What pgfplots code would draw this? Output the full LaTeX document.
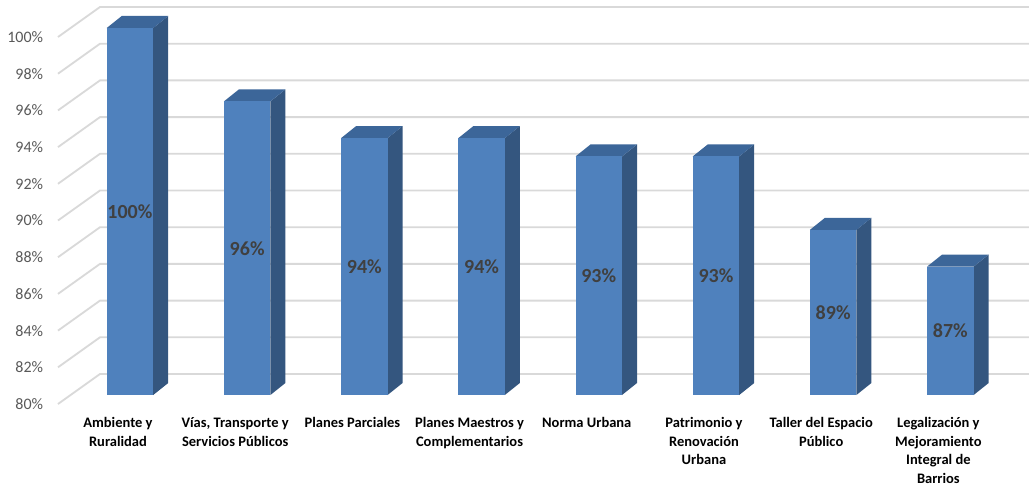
\documentclass[border=0pt]{standalone}
\usepackage{pgfplots}
\pgfplotsset{compat=1.18}
\usepackage{pgfplotstable}
\usepackage{fontspec}
\setmainfont{Carlito}
\definecolor{barfront}{HTML}{4F81BD}
\definecolor{barside}{HTML}{34567F}
\definecolor{bartop}{HTML}{3C6699}
\definecolor{gridgray}{HTML}{D9D9D9}
\definecolor{ticktext}{HTML}{595959}
\definecolor{valtext}{HTML}{404040}

% 3D box mark: origin at the top-front-center of the bar; \hh = bar height in pt
\pgfdeclareplotmark{box3d}{%
  \begin{pgfscope}
    \pgfsetfillcolor{barside}%
    \pgfpathmoveto{\pgfpoint{13.95pt}{0pt}}%
    \pgfpathlineto{\pgfpoint{22.95pt}{7.2pt}}%
    \pgfpathlineto{\pgfpoint{22.95pt}{7.2pt-\hh pt}}%
    \pgfpathlineto{\pgfpoint{13.95pt}{-\hh pt}}%
    \pgfpathclose
    \pgfusepathqfill
  \end{pgfscope}%
  \begin{pgfscope}
    \pgfsetfillcolor{bartop}%
    \pgfpathmoveto{\pgfpoint{-13.95pt}{0pt}}%
    \pgfpathlineto{\pgfpoint{13.95pt}{0pt}}%
    \pgfpathlineto{\pgfpoint{22.95pt}{7.2pt}}%
    \pgfpathlineto{\pgfpoint{-4.95pt}{7.2pt}}%
    \pgfpathclose
    \pgfusepathqfill
  \end{pgfscope}%
  \begin{pgfscope}
    \pgfsetfillcolor{barfront}%
    \pgfpathrectanglecorners{\pgfpoint{-13.95pt}{-\hh pt}}{\pgfpoint{13.95pt}{0pt}}%
    \pgfusepathqfill
  \end{pgfscope}%
}
% grid mark: front-edge diagonal plus back-wall line
\pgfdeclareplotmark{gridmark}{%
  \pgfpathmoveto{\pgfpoint{0pt}{-5.4pt}}%
  \pgfpathlineto{\pgfpoint{25.2pt}{12.6pt}}%
  \pgfpathlineto{\pgfpoint{582.6pt}{12.6pt}}%
  \pgfusepathqstroke
}

\pgfplotstableread{
x v
0 100
1 96
2 94
3 94
4 93
5 93
6 89
7 87
}\datatable

\begin{document}
\begin{tikzpicture}
\begin{axis}[
  scale only axis,
  width=582.6pt, height=220.2pt,
  xmin=-0.614, xmax=7.671,
  ymin=80, ymax=100,
  clip=false,
  axis line style={draw=none},
  major tick style={draw=none},
  /pgf/number format/assume math mode=true,
  ytick={80,82,...,100},
  yticklabels={80\%,82\%,84\%,86\%,88\%,90\%,92\%,94\%,96\%,98\%,100\%},
  yticklabel style={font=\fontsize{9.6}{11}\selectfont, text=ticktext, anchor=east, xshift=-5.4pt, yshift=-5.4pt},
  xtick={0,...,7},
  xticklabels={
    {Ambiente y\\Ruralidad},
    {Vías, Transporte y\\Servicios Públicos},
    {Planes Parciales},
    {Planes Maestros y\\Complementarios},
    {Norma Urbana},
    {Patrimonio y\\Renovación\\Urbana},
    {Taller del Espacio\\Público},
    {Legalización y\\Mejoramiento\\Integral de\\Barrios}},
  xticklabel style={font=\bfseries\fontsize{8.7}{11.1}\selectfont, align=center, anchor=north, xshift=-7.2pt, yshift=-10pt},
]
\addplot[only marks, mark=gridmark, mark options={draw=gridgray, line width=1.1pt}]
  coordinates {(-0.614,80) (-0.614,82) (-0.614,84) (-0.614,86) (-0.614,88) (-0.614,90)
               (-0.614,92) (-0.614,94) (-0.614,96) (-0.614,98) (-0.614,100)};
\addplot[scatter, only marks, mark=box3d,
  scatter/use mapped color={draw=none, fill=none},
  visualization depends on={(\thisrow{v}-80)*11.01 \as \hh},
  visualization depends on={(\thisrow{v}-80)*5.505 \as \halfh},
  nodes near coords={\pgfmathprintnumber[fixed,precision=0]{\pgfplotspointmeta}\%},
  every node near coord/.append style={anchor=center, yshift=-\halfh pt,
     font=\bfseries\fontsize{12}{14}\selectfont, text=valtext},
] table[x=x, y=v] {\datatable};
\end{axis}
\pgfresetboundingbox
\useasboundingbox (current axis.south west) ++(-34.8pt,-55.2pt) rectangle ++(617.4pt,292.2pt);
\end{tikzpicture}
\end{document}
